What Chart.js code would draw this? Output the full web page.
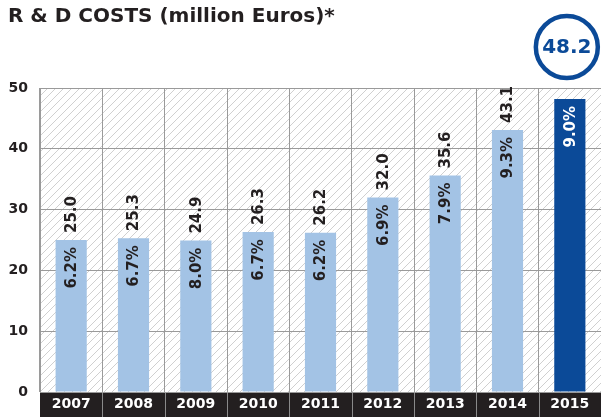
<!DOCTYPE html>
<html>
<head>
<meta charset="utf-8">
<script src="https://cdn.jsdelivr.net/npm/chart.js@4.4.0/dist/chart.umd.min.js"></script>
<style>
  html, body { margin: 0; padding: 0; background: #fff; }
  #wrap { width: 601px; height: 417px; position: relative; }
</style>
</head>
<body>
<div id="wrap"><canvas id="rdChart" width="601" height="417"></canvas></div>
<script>
var years = ['2007', '2008', '2009', '2010', '2011', '2012', '2013', '2014', '2015'];
var costs = [25.0, 25.3, 24.9, 26.3, 26.2, 32.0, 35.6, 43.1, 48.2];
var shares = ['6.2%', '6.7%', '8.0%', '6.7%', '6.2%', '6.9%', '7.9%', '9.3%', '9.0%'];
var yTicks = [0, 10, 20, 30, 40, 50];
var titleText = 'R & D COSTS (million Euros)*';

var lightBlue = '#a3c3e5';
var darkBlue = '#0b4a98';
var ink = '#231f20';
var labelFont = 'bold 15px "DejaVu Sans"';

// hatch background, dark year band and title
var backdrop = {
  id: 'backdrop',
  beforeDraw: function(chart) {
    var ctx = chart.ctx;
    var a = chart.chartArea;
    ctx.save();
    ctx.beginPath();
    ctx.rect(a.left, a.top, a.right - a.left, a.bottom - a.top);
    ctx.clip();
    ctx.strokeStyle = '#c4c4c4';
    ctx.lineWidth = 0.8;
    var h = a.bottom - a.top;
    for (var x = a.left - h; x < a.right + 10; x += 8) {
      ctx.beginPath();
      ctx.moveTo(x, a.bottom);
      ctx.lineTo(x + h, a.top);
      ctx.stroke();
    }
    ctx.restore();

    ctx.save();
    ctx.fillStyle = ink;
    ctx.fillRect(a.left, a.bottom, a.right - a.left, chart.height - a.bottom);
    var xs = chart.scales.x;
    ctx.strokeStyle = '#8a8a8a';
    ctx.lineWidth = 1;
    for (var i = 1; i < years.length; i++) {
      var gx = Math.round((xs.getPixelForValue(i - 1) + xs.getPixelForValue(i)) / 2) + 0.5;
      ctx.beginPath();
      ctx.moveTo(gx, a.bottom);
      ctx.lineTo(gx, chart.height);
      ctx.stroke();
    }
    ctx.fillStyle = ink;
    ctx.font = 'bold 20px "DejaVu Sans"';
    ctx.textBaseline = 'alphabetic';
    ctx.textAlign = 'left';
    ctx.fillText(titleText, 8, 22);
    ctx.restore();
  }
};

// rotated value and share labels, plus the highlighted circle
var barLabels = {
  id: 'barLabels',
  afterDatasetsDraw: function(chart) {
    var ctx = chart.ctx;
    var bars = chart.getDatasetMeta(0).data;
    var last = bars.length - 1;
    ctx.save();
    ctx.font = labelFont;
    ctx.textBaseline = 'middle';
    bars.forEach(function(bar, i) {
      ctx.save();
      ctx.translate(bar.x, bar.y);
      ctx.rotate(-Math.PI / 2);
      if (i !== last) {
        ctx.fillStyle = ink;
        ctx.textAlign = 'left';
        ctx.fillText(costs[i].toFixed(1), 7, 1);
      }
      ctx.fillStyle = i === last ? '#fff' : ink;
      ctx.textAlign = 'right';
      ctx.fillText(shares[i], -7, 1);
      ctx.restore();
    });

    var b = bars[last];
    var cx = b.x - 3, cy = 47;
    ctx.beginPath();
    ctx.arc(cx, cy, 31, 0, Math.PI * 2);
    ctx.lineWidth = 4.5;
    ctx.strokeStyle = darkBlue;
    ctx.fillStyle = '#fff';
    ctx.fill();
    ctx.stroke();
    ctx.fillStyle = darkBlue;
    ctx.font = 'bold 20px "DejaVu Sans"';
    ctx.textAlign = 'center';
    ctx.fillText(costs[last].toFixed(1), cx, cy + 1);
    ctx.restore();
  }
};

var ctx = document.getElementById('rdChart').getContext('2d');
var rdChart = new Chart(ctx, {
  type: 'bar',
  data: {
    labels: years,
    datasets: [{
      label: 'R & D costs',
      data: costs,
      backgroundColor: costs.map(function(v, i) { return i === costs.length - 1 ? darkBlue : lightBlue; }),
      borderWidth: 0,
      barPercentage: 0.5,
      categoryPercentage: 1.0
    }]
  },
  options: {
    responsive: false,
    animation: false,
    layout: { padding: { top: 88, right: 0, left: 0, bottom: 0 } },
    plugins: {
      legend: { display: false },
      tooltip: { enabled: false }
    },
    scales: {
      x: {
        grid: { color: '#9a9a9a', drawTicks: false, offset: true },
        border: { display: false },
        ticks: {
          color: '#ffffff',
          font: { family: 'DejaVu Sans', weight: 'bold', size: 14 },
          padding: 4
        },
        afterFit: function(scale) { scale.height = 25; }
      },
      y: {
        min: 0,
        max: 50,
        grid: { color: '#9a9a9a', drawTicks: false },
        border: { color: '#9a9a9a' },
        afterBuildTicks: function(scale) {
          scale.ticks = yTicks.map(function(v) { return { value: v }; });
        },
        ticks: {
          color: ink,
          font: { family: 'DejaVu Sans', weight: 'bold', size: 14 },
          padding: 12
        },
        afterFit: function(scale) { scale.width = 40; }
      }
    }
  },
  plugins: [backdrop, barLabels]
});
</script>
</body>
</html>
